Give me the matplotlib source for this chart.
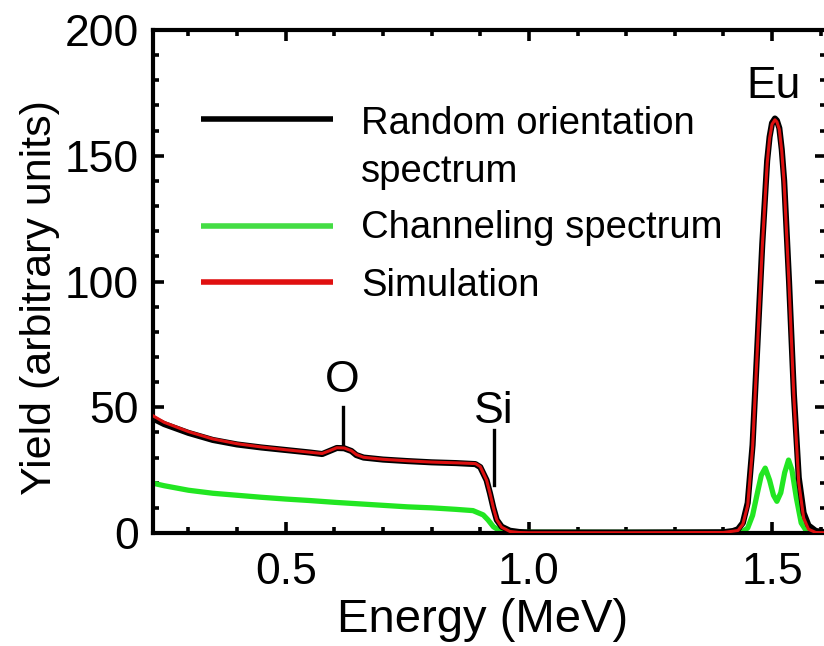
import matplotlib
matplotlib.use('Agg')
import matplotlib.pyplot as plt
from matplotlib.ticker import MultipleLocator

plt.rcParams['font.family'] = ['Liberation Sans', 'DejaVu Sans']

# Random orientation spectrum (black)
random_e = [0.227, 0.25, 0.30, 0.35, 0.40, 0.45, 0.50, 0.55, 0.575, 0.59, 0.605,
            0.62, 0.635, 0.645, 0.66, 0.70, 0.75, 0.80, 0.85, 0.89, 0.90, 0.913, 0.92,
            0.927, 0.934, 0.944, 0.961, 0.98, 1.00, 1.20, 1.40, 1.42, 1.43, 1.44,
            1.45, 1.46, 1.47, 1.48, 1.49, 1.495, 1.50, 1.506, 1.51, 1.515, 1.52,
            1.525, 1.535, 1.545, 1.555, 1.565, 1.575, 1.59, 1.61]
random_y = [45.5, 43.3, 39.8, 37.0, 35.2, 34.0, 33.0, 32.0, 31.4, 32.6, 33.8,
            33.7, 32.6, 31.0, 30.0, 29.2, 28.6, 28.1, 27.8, 27.4, 26.2, 21.0, 15.8,
            10.0, 5.2, 2.5, 0.9, 0.4, 0.2, 0.2, 0.3, 0.8, 1.5, 4.0,
            12.0, 35.0, 75.0, 115.0, 148.0, 157.5, 163.0, 164.8, 164.0, 161.0, 152.5,
            140.0, 100.0, 55.0, 22.0, 8.0, 3.0, 0.8, 0.3]

# Simulation (red)
sim_e = [0.227, 0.25, 0.30, 0.35, 0.40, 0.45, 0.50, 0.55, 0.575, 0.59, 0.605,
         0.62, 0.635, 0.645, 0.66, 0.70, 0.75, 0.80, 0.85, 0.89, 0.90, 0.913, 0.92,
         0.927, 0.934, 0.944, 0.961, 0.98, 1.00, 1.20, 1.40, 1.43, 1.44,
         1.45, 1.46, 1.47, 1.48, 1.49, 1.495, 1.50, 1.506, 1.51, 1.515, 1.52,
         1.525, 1.535, 1.545, 1.555, 1.565, 1.575, 1.59, 1.61]
sim_y = [46.6, 44.0, 40.3, 37.4, 35.5, 34.2, 33.1, 32.1, 31.6, 32.7, 33.9,
         33.8, 32.7, 31.2, 30.1, 29.3, 28.7, 28.2, 27.9, 27.6, 26.4, 21.0, 15.8,
         10.0, 5.2, 2.3, 0.6, 0.2, 0.1, 0.1, 0.2, 1.0, 3.5,
         11.0, 34.0, 74.0, 114.0, 147.0, 157.0, 162.5, 164.3, 163.5, 160.5, 152.0,
         139.0, 99.0, 54.0, 20.0, 6.0, 1.5, 0.2, 0.1]

# Channeling spectrum (green)
chan_e = [0.227, 0.25, 0.30, 0.35, 0.40, 0.45, 0.50, 0.55, 0.60, 0.65, 0.70,
          0.75, 0.80, 0.85, 0.885, 0.906, 0.916, 0.927, 0.94, 0.96, 1.40, 1.44,
          1.45, 1.46, 1.47, 1.478, 1.486, 1.495, 1.503, 1.51, 1.518, 1.526, 1.534,
          1.541, 1.55, 1.56, 1.57, 1.58, 1.61]
chan_y = [19.8, 18.8, 17.0, 15.8, 15.0, 14.2, 13.5, 12.9, 12.2, 11.6, 11.0,
          10.4, 10.0, 9.4, 8.9, 7.2, 5.2, 2.5, 0.9, 0.3, 0.2, 0.6,
          2.0, 7.0, 16.0, 23.0, 25.8, 21.0, 15.0, 12.6, 16.0, 24.0, 29.0,
          25.0, 14.0, 4.0, 1.0, 0.3, 0.2]

# element markers: (label, energy, text y, line bottom, line top)
peak_names = ['O', 'Si', 'Eu']
peak_e = [0.617, 0.928, 1.504]
peak_text_y = [60.5, 48.5, 177.5]
marker_lo = [35.0, 19.0]
marker_hi = [50.2, 41.0]

fig = plt.figure(figsize=(8.24, 6.46), dpi=100)
ax = fig.add_axes([153 / 824, 1 - 533 / 646, 673 / 824, 503 / 646])

ax.plot(random_e, random_y, color='black', lw=4.4, solid_joinstyle='round', zorder=3)
ax.plot(chan_e, chan_y, color='#22e622', lw=3.8, solid_joinstyle='round', zorder=2)
ax.plot(sim_e, sim_y, color='#dd1010', lw=2.2, solid_joinstyle='round', zorder=4)

for i in range(2):
    ax.plot([peak_e[i], peak_e[i]], [marker_lo[i], marker_hi[i]], color='black', lw=2.4)
for name, e, ty in zip(peak_names, peak_e, peak_text_y):
    ax.text(e, ty, name, fontsize=32, ha='center', va='center')

# legend drawn by hand
leg_colors = ['black', '#44dd44', '#e01010']
leg_line_y = [0.823, 0.610, 0.499]
for c, yy in zip(leg_colors, leg_line_y):
    ax.plot([0.071, 0.268], [yy, yy], color=c, lw=4.0, transform=ax.transAxes,
            solid_capstyle='butt')
leg_texts = ['Random orientation', 'spectrum', 'Channeling spectrum', 'Simulation']
leg_text_y = [0.793, 0.697, 0.587, 0.471]
for t, yy in zip(leg_texts, leg_text_y):
    ax.text(0.309, yy, t, fontsize=27.5, ha='left', va='baseline', transform=ax.transAxes)

ax.set_xlim(0.227, 1.611)
ax.set_ylim(0, 200)
ax.xaxis.set_major_locator(MultipleLocator(0.5))
ax.xaxis.set_minor_locator(MultipleLocator(0.1))
ax.yaxis.set_major_locator(MultipleLocator(50))
ax.yaxis.set_minor_locator(MultipleLocator(10))
ax.set_xticks([0.5, 1.0, 1.5])
ax.set_xticklabels(['0.5', '1.0', '1.5'])

ax.tick_params(which='both', direction='in', top=True, right=True, width=2.6,
               labelsize=32)
ax.tick_params(which='major', length=8, pad=10)
ax.tick_params(axis='x', which='major', pad=14)
ax.tick_params(which='minor', length=4.5)
for s in ax.spines.values():
    s.set_linewidth(3.0)

ax.set_xlabel('Energy (MeV)', fontsize=34)
ax.set_ylabel('Yield (arbitrary units)', fontsize=31)
ax.xaxis.set_label_coords(0.489, -0.13)
ax.yaxis.set_label_coords(-0.138, 0.469)

fig.savefig('out.png', dpi=100)
